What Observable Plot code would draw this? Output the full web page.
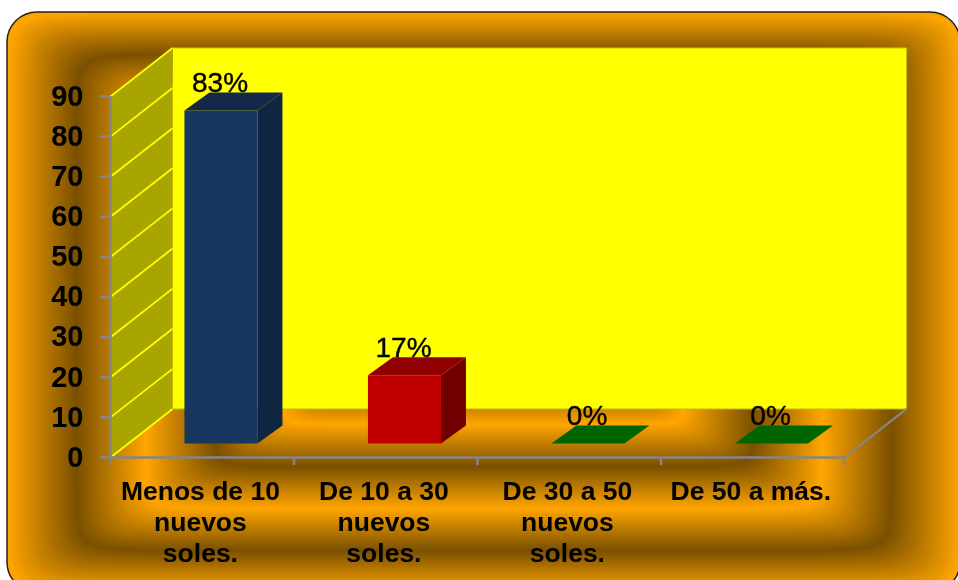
<!DOCTYPE html>
<html>
<head>
<meta charset="utf-8">
<script src="https://cdn.jsdelivr.net/npm/d3@7"></script>
<script src="https://cdn.jsdelivr.net/npm/@observablehq/plot@0.6"></script>
<style>
html,body{margin:0;padding:0;background:#fff;overflow:hidden}
#wrap{position:relative;width:958px;height:580px;overflow:hidden}
#bg{position:absolute;left:0;top:0}
#chart{position:absolute;left:0;top:0}
</style>
</head>
<body>
<div id="wrap"><canvas id="bg" width="958" height="580"></canvas><div id="chart"></div></div>
<script>
// Data
const categories = ["Menos de 10\nnuevos\nsoles.", "De 10 a 30\nnuevos\nsoles.", "De 30 a 50\nnuevos\nsoles.", "De 50 a más."];
const values = [83, 17, 0, 0];
const valueLabels = ["83%", "17%", "0%", "0%"];
const yTicks = [0, 10, 20, 30, 40, 50, 60, 70, 80, 90];
const frontColors = ["#17375e", "#c00000", "#006400", "#006400"];
const topColors = ["#14294a", "#900000", "#006400", "#006400"];
const sideColors = ["#10253f", "#700000", "#006400", "#006400"];

// 3D projection constants, in scale units
const wallDX = 0.338, wallDY = 12.1, yMax = 90;
const barInset = 0.403, barW = 0.398, barLift = 3.5, barDX = 0.136, barDY = 4.5;

// Background: concentric rectangular bands behind the chart
(function(){
  const c = document.getElementById("bg"), g = c.getContext("2d");
  const L = 7, T = 12, R = 960, B = 592, r = 30;
  const cx = (L+R)/2, cy = (T+B)/2, hw = (R-L)/2, hh = (B-T)/2;
  const img = g.createImageData(958, 580), p = 22, period = 0.29;
  for (let y = 0; y < 580; y++) for (let x = 0; x < 958; x++) {
    const u = Math.abs(x-cx)/hw, v = Math.abs(y-cy)/hh;
    const t = Math.pow(Math.pow(u,p)+Math.pow(v,p),1/p);
    let ph = ((1-t)/period) % 1; if (ph < 0) ph += 1;
    const k = 1-Math.abs(2*ph-1);
    const i = (y*958+x)*4;
    img.data[i] = 255-k*(255-122); img.data[i+1] = 165-k*(165-80); img.data[i+2] = 0; img.data[i+3] = 255;
  }
  const off = document.createElement("canvas"); off.width = 958; off.height = 580;
  off.getContext("2d").putImageData(img,0,0);
  g.beginPath(); g.roundRect(L,T,R-L,B-T,r);
  g.save(); g.clip(); g.drawImage(off,0,0); g.restore();
  g.lineWidth = 1.5; g.strokeStyle = "#222"; g.stroke();
})();

// Faces of the 3D box as polygons in scale units
const faces = [];
const addFace = (id, fill, pts) => pts.forEach(([x, y]) => faces.push({id, fill, x, y}));
addFace("back", "#ffff00", [[wallDX, wallDY], [4+wallDX, wallDY], [4+wallDX, yMax+wallDY], [wallDX, yMax+wallDY]]);
addFace("left", "#a8a400", [[0, 0], [wallDX, wallDY], [wallDX, yMax+wallDY], [0, yMax]]);

values.forEach((v, i) => {
  const a = i + barInset, b = a + barW, y0 = barLift, y1 = barLift + v;
  if (v > 0) {
    addFace("side"+i, sideColors[i], [[b, y0], [b+barDX, y0+barDY], [b+barDX, y1+barDY], [b, y1]]);
    addFace("front"+i, frontColors[i], [[a, y0], [b, y0], [b, y1], [a, y1]]);
  }
  addFace("top"+i, topColors[i], [[a, y1], [b, y1], [b+barDX, y1+barDY], [a+barDX, y1+barDY]]);
});

const faceIds = [...new Set(faces.map(d => d.id))];
const axisColor = "#868686";
const font = "'Liberation Sans', Arial, sans-serif";

const plot = Plot.plot({
  width: 958, height: 580,
  marginLeft: 110, marginRight: 114, marginTop: 96, marginBottom: 123,
  style: {background: "transparent", fontFamily: font, overflow: "visible"},
  x: {domain: [0, 4], axis: null},
  y: {domain: [0, yMax], axis: null},
  marks: [
    ...faceIds.filter(id => id === "back" || id === "left").map(id =>
      Plot.line(faces.filter(d => d.id === id), {
        x: "x", y: "y", fill: faces.find(d => d.id === id).fill,
        stroke: id === "back" ? "#c4c400" : "none", strokeWidth: 1
      })),
    // gridlines on the left wall
    Plot.link(yTicks, {x1: 0, x2: wallDX, y1: d => d, y2: d => d + wallDY, stroke: "#ffff00", strokeWidth: 1.8}),
    // axes
    Plot.link([0], {x1: 4, x2: 4 + wallDX, y1: 0, y2: wallDY, stroke: axisColor, strokeWidth: 2.2}),
    Plot.axisY({ticks: yTicks, anchor: "left", tickSize: 10, tickPadding: 17, stroke: axisColor, strokeWidth: 2.5,
      fill: "#000", color: "#000", fontSize: 29, fontWeight: "bold", label: null, tickFormat: d => String(d)}),
    Plot.axisX({ticks: [0, 1, 2, 3, 4], anchor: "bottom", tickSize: 8, stroke: axisColor, strokeWidth: 2.5, tickFormat: () => "", label: null}),
    Plot.ruleX([0], {y1: 0, y2: yMax, stroke: axisColor, strokeWidth: 2.5}),
    Plot.ruleY([0], {x1: 0, x2: 4, stroke: axisColor, strokeWidth: 2.5}),
    // bars
    ...faceIds.filter(id => id !== "back" && id !== "left").map(id =>
      Plot.line(faces.filter(d => d.id === id), {x: "x", y: "y", fill: faces.find(d => d.id === id).fill, stroke: "none"})),
    // value labels
    Plot.text(values, {
      x: (d, i) => i + barInset + barW/2 - 0.005,
      y: d => d + barLift + barDY,
      text: (d, i) => valueLabels[i],
      fontSize: 28, fill: "#000", stroke: "#000", strokeWidth: 0.4, lineAnchor: "bottom", dy: 0
    }),
    // category labels
    Plot.text(categories, {
      x: (d, i) => i + 0.5 - 0.01, y: () => 0,
      text: d => d,
      fontSize: 26.5, fontWeight: "bold", fill: "#000",
      lineAnchor: "top", lineHeight: 1.17, dy: 20
    })
  ]
});
document.getElementById("chart").appendChild(plot);
</script>
</body>
</html>
